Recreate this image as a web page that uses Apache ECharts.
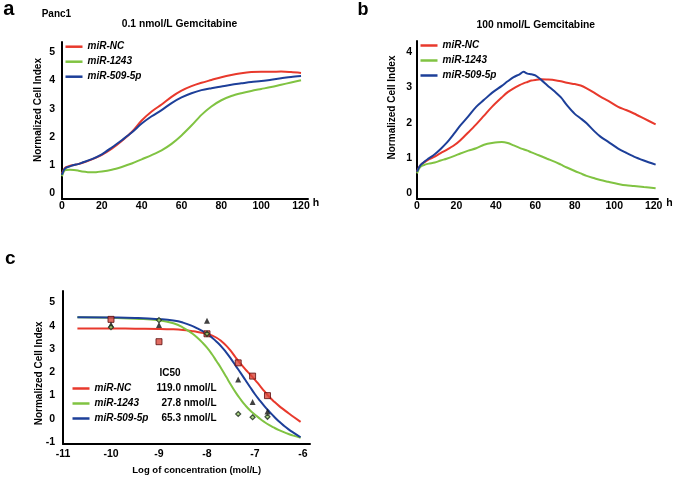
<!DOCTYPE html>
<html>
<head>
<meta charset="utf-8">
<script src="https://cdn.jsdelivr.net/npm/echarts@6/dist/echarts.min.js"></script>
<style>
html,body{margin:0;padding:0;background:#fff;}
#chart{width:675px;height:477px;}
</style>
</head>
<body>
<div id="chart"></div>
<script>
// ---------- Data ----------
const seriesNames = ['miR-NC', 'miR-1243', 'miR-509-5p'];

// Panel a: 0.1 nmol/L Gemcitabine
const timeA = [0, 1, 2, 4, 6, 8, 10, 15, 20, 25, 30, 35, 40, 45, 50, 55, 60, 65, 70, 75, 80, 85, 90, 95, 100, 105, 110, 115, 120];
const ncA    = [0.7, 0.85, 0.92, 0.97, 1.0, 1.03, 1.07, 1.2, 1.36, 1.58, 1.85, 2.17, 2.58, 2.9, 3.15, 3.42, 3.64, 3.8, 3.92, 4.02, 4.12, 4.2, 4.26, 4.3, 4.31, 4.31, 4.32, 4.3, 4.27];
const m1243A = [0.6, 0.78, 0.82, 0.83, 0.82, 0.8, 0.77, 0.74, 0.77, 0.83, 0.93, 1.05, 1.2, 1.35, 1.52, 1.75, 2.05, 2.4, 2.78, 3.08, 3.3, 3.45, 3.55, 3.63, 3.7, 3.77, 3.85, 3.93, 4.01];
const m509A  = [0.65, 0.83, 0.9, 0.95, 1.0, 1.03, 1.08, 1.21, 1.38, 1.62, 1.88, 2.15, 2.47, 2.73, 2.95, 3.2, 3.4, 3.55, 3.66, 3.73, 3.79, 3.85, 3.9, 3.95, 3.98, 4.03, 4.08, 4.13, 4.16];

// Panel b: 100 nmol/L Gemcitabine
const timeB = [0, 1, 2, 4, 6, 9, 12, 15, 19, 22, 26, 30, 34, 38, 43, 46, 49, 52, 54, 56, 58, 60, 63, 66, 70, 73, 76, 80, 83, 86, 90, 93, 97, 102, 106, 110, 115, 121];
const ncB    = [0.6, 0.72, 0.8, 0.88, 0.95, 1.03, 1.13, 1.22, 1.36, 1.5, 1.72, 1.95, 2.2, 2.45, 2.72, 2.87, 2.98, 3.07, 3.12, 3.16, 3.2, 3.22, 3.24, 3.23, 3.21, 3.18, 3.14, 3.1, 3.06, 2.98, 2.85, 2.74, 2.62, 2.45, 2.36, 2.26, 2.12, 1.95];
const m1243B = [0.55, 0.68, 0.75, 0.8, 0.83, 0.86, 0.92, 0.97, 1.05, 1.12, 1.2, 1.27, 1.37, 1.42, 1.45, 1.42, 1.35, 1.28, 1.24, 1.2, 1.15, 1.11, 1.04, 0.97, 0.88, 0.8, 0.72, 0.62, 0.55, 0.48, 0.41, 0.36, 0.31, 0.25, 0.21, 0.19, 0.16, 0.13];
const m509B  = [0.6, 0.72, 0.8, 0.9, 0.98, 1.1, 1.25, 1.42, 1.7, 1.92, 2.18, 2.45, 2.65, 2.85, 3.05, 3.18, 3.3, 3.38, 3.45, 3.4, 3.38, 3.35, 3.22, 3.07, 2.88, 2.72, 2.5, 2.25, 2.12, 1.98, 1.75, 1.6, 1.45, 1.26, 1.14, 1.03, 0.92, 0.8];

// Panel c: dose-response fitted curves
const logConcCurve = [-10.7, -10, -9.5, -9, -8.7, -8.5, -8.3, -8.2, -8.1, -8, -7.9, -7.8, -7.7, -7.6, -7.5, -7.4, -7.3, -7.2, -7.1, -7, -6.9, -6.8, -6.7, -6.6, -6.5, -6.4, -6.3, -6.2, -6.05];
const ncCurve    = [3.88, 3.88, 3.87, 3.86, 3.84, 3.81, 3.76, 3.73, 3.69, 3.65, 3.58, 3.48, 3.33, 3.14, 2.9, 2.62, 2.36, 2.12, 1.9, 1.67, 1.42, 1.17, 0.93, 0.73, 0.55, 0.39, 0.23, 0.08, -0.14];
const m1243Curve = [4.36, 4.34, 4.3, 4.23, 4.1, 3.92, 3.65, 3.48, 3.28, 3.05, 2.78, 2.47, 2.15, 1.8, 1.45, 1.12, 0.83, 0.57, 0.35, 0.17, 0.0, -0.15, -0.28, -0.39, -0.49, -0.58, -0.66, -0.73, -0.82];
const m509Curve  = [4.36, 4.35, 4.33, 4.28, 4.22, 4.13, 3.98, 3.88, 3.77, 3.65, 3.49, 3.31, 3.1, 2.85, 2.57, 2.27, 1.97, 1.66, 1.35, 1.05, 0.78, 0.53, 0.3, 0.08, -0.12, -0.3, -0.46, -0.6, -0.8];

// Panel c: measured points
const logConcPts = [-10, -9, -8, -7.35, -7.05, -6.74];
const ncPts    = [4.27, 3.31, 3.65, 2.40, 1.83, 0.99];
const m1243Pts = [3.93, 4.24, 3.65, 0.20, 0.06, 0.08];
const m509Pts  = [4.05, 4.03, 4.21, 1.68, 0.72, 0.31];

const ic50Labels = ['119.0 nmol/L', '27.8 nmol/L', '65.3 nmol/L'];

// Tick labels
const xTicksAB = [0, 20, 40, 60, 80, 100, 120];
const yTicksA = [0, 1, 2, 3, 4, 5];
const yTicksB = [0, 1, 2, 3, 4];
const xTicksC = [-11, -10, -9, -8, -7, -6];
const yTicksC = [-1, 0, 1, 2, 3, 4, 5];

// ---------- Styling ----------
const colors = ['#e8392c', '#80c342', '#1d3f99'];
const FONT = '"Liberation Sans", Arial, sans-serif';
const zip = (xs, ys) => xs.map((x, i) => [x, ys[i]]);

const axisLine = { show: true, onZero: false, lineStyle: { color: '#000', width: 2 } };
const labelBase = { color: '#000', fontFamily: FONT, fontWeight: 'bold', fontSize: 10.5 };

function xAxisCfg(grid, min, max, ticks, margin) {
  return {
    type: 'value', gridIndex: grid, min: min, max: max,
    axisLine: axisLine, axisTick: { show: false }, splitLine: { show: false },
    axisLabel: Object.assign({ customValues: ticks, margin: margin }, labelBase)
  };
}
function yAxisCfg(grid, min, max, ticks, margin) {
  return {
    type: 'value', gridIndex: grid, min: min, max: max,
    axisLine: axisLine, axisTick: { show: false }, splitLine: { show: false },
    axisLabel: Object.assign({ customValues: ticks, margin: margin }, labelBase)
  };
}

function lineSeries(name, idx, grid, data, smooth) {
  return {
    name: name, type: 'line', xAxisIndex: grid, yAxisIndex: grid,
    data: data, showSymbol: false, smooth: smooth,
    lineStyle: { color: colors[idx], width: 2 },
    itemStyle: { color: colors[idx] }, z: 3
  };
}

function legendCfg(left, top) {
  return {
    left: left, top: top, orient: 'vertical', data: seriesNames, padding: 0,
    icon: 'rect', itemWidth: 17, itemHeight: 2.5, itemGap: 3,
    selectedMode: false,
    textStyle: { color: '#000', fontFamily: FONT, fontWeight: 'bold', fontStyle: 'italic', fontSize: 10, lineHeight: 12 }
  };
}

function txt(text, x, y, size, align, extra) {
  return Object.assign({
    type: 'text', x: x, y: y, silent: true,
    style: {
      text: text, fill: '#000', textAlign: align || 'center', textVerticalAlign: 'middle',
      font: 'bold ' + size + 'px ' + FONT
    }
  }, extra || {});
}

const option = {
  animation: false,
  backgroundColor: '#fff',
  grid: [
    { left: 62, top: 42, width: 246, height: 157 },
    { left: 417, top: 41, width: 241, height: 158 },
    { left: 63, top: 291, width: 247, height: 153 }
  ],
  xAxis: [
    xAxisCfg(0, 0, 123.5, xTicksAB, 2),
    xAxisCfg(1, 0, 122.2, xTicksAB, 2),
    xAxisCfg(2, -11, -5.854, xTicksC, 5)
  ],
  yAxis: [
    yAxisCfg(0, -0.21, 5.37, yTicksA, 7),
    yAxisCfg(1, -0.18, 4.33, yTicksB, 5),
    yAxisCfg(2, -1.09, 5.49, yTicksC, 8)
  ],
  legend: [
    legendCfg(65.5, 40.7),
    legendCfg(420.5, 39.5),
    legendCfg(72.5, 382.5)
  ],
  series: [
    lineSeries(seriesNames[0], 0, 0, zip(timeA, ncA), 0.3),
    lineSeries(seriesNames[1], 1, 0, zip(timeA, m1243A), 0.3),
    lineSeries(seriesNames[2], 2, 0, zip(timeA, m509A), 0.3),
    lineSeries(seriesNames[0], 0, 1, zip(timeB, ncB), 0.3),
    lineSeries(seriesNames[1], 1, 1, zip(timeB, m1243B), 0.3),
    lineSeries(seriesNames[2], 2, 1, zip(timeB, m509B), 0.3),
    lineSeries(seriesNames[0], 0, 2, zip(logConcCurve, ncCurve), true),
    lineSeries(seriesNames[1], 1, 2, zip(logConcCurve, m1243Curve), true),
    lineSeries(seriesNames[2], 2, 2, zip(logConcCurve, m509Curve), true),
    {
      name: 'miR-NC points', type: 'scatter', xAxisIndex: 2, yAxisIndex: 2,
      data: zip(logConcPts, ncPts), symbol: 'rect', symbolSize: 6, z: 5,
      itemStyle: { color: '#d8473b', borderColor: '#5a0c0c', borderWidth: 1 }
    },
    {
      name: 'miR-509-5p points', type: 'scatter', xAxisIndex: 2, yAxisIndex: 2,
      data: zip(logConcPts, m509Pts), symbol: 'triangle', symbolSize: 6, z: 5,
      itemStyle: { color: '#111' }
    },
    {
      name: 'miR-1243 points', type: 'scatter', xAxisIndex: 2, yAxisIndex: 2,
      data: zip(logConcPts, m1243Pts), symbol: 'diamond', symbolSize: 5, z: 5,
      itemStyle: { color: '#9ccf6a', borderColor: '#1a2a1a', borderWidth: 1.2 }
    }
  ],
  graphic: [
    txt('a', 3.3, 9.8, 20, 'left'),
    txt('b', 357.5, 9.8, 18, 'left'),
    txt('c', 5, 258.5, 19, 'left'),
    txt('Panc1', 41.7, 14.5, 10, 'left'),
    txt('0.1 nmol/L Gemcitabine', 179.5, 24.5, 10.3),
    txt('100 nmol/L Gemcitabine', 535.8, 25, 10.3),
    txt('h', 316, 203, 10.5),
    txt('h', 669.5, 203, 10.5),
    txt('Normalized Cell Index', 38.5, 110, 10, 'center', { rotation: Math.PI / 2 }),
    txt('Normalized Cell Index', 392.7, 107.5, 10, 'center', { rotation: Math.PI / 2 }),
    txt('Normalized Cell Index', 39.3, 373.3, 10, 'center', { rotation: Math.PI / 2 }),
    txt('Log of concentration (mol/L)', 196.7, 470, 9.5),
    txt('IC50', 159.5, 373.3, 10, 'left'),
    txt(ic50Labels[0], 216.5, 388.5, 10, 'right'),
    txt(ic50Labels[1], 216.5, 403, 10, 'right'),
    txt(ic50Labels[2], 216.5, 418, 10, 'right')
  ]
};

const chart = echarts.init(document.getElementById('chart'), null, { renderer: 'canvas' });
chart.setOption(option);
</script>
</body>
</html>
